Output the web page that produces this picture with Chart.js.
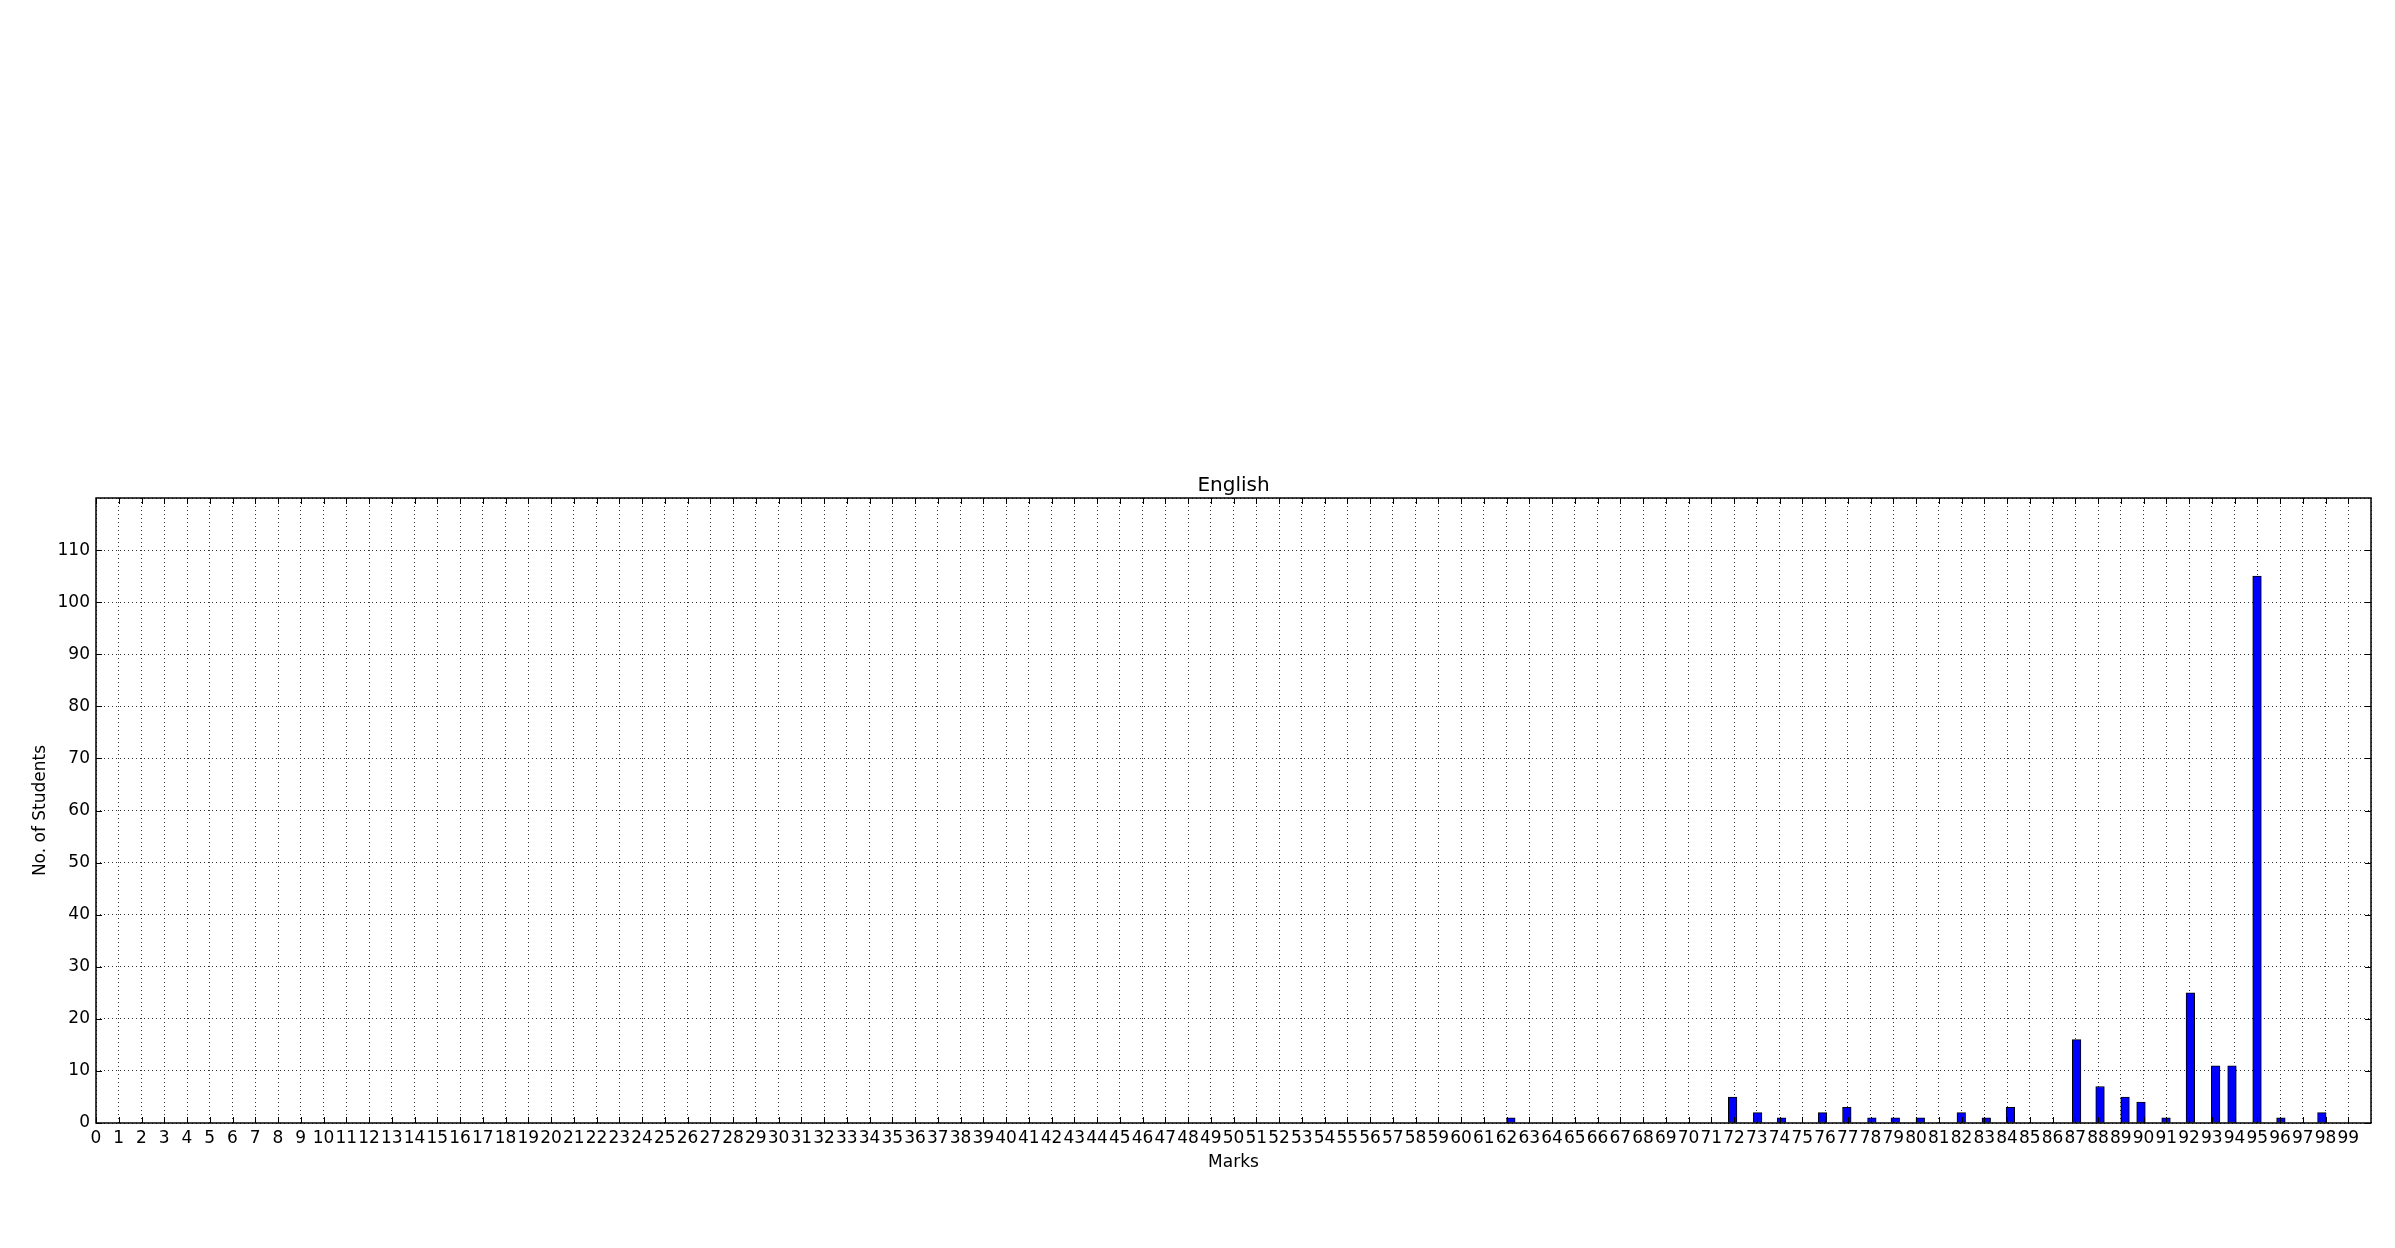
<!DOCTYPE html>
<html>
<head>
<meta charset="utf-8">
<script src="https://cdn.jsdelivr.net/npm/chart.js@4/dist/chart.umd.min.js"></script>
<style>
  html, body { margin: 0; padding: 0; background: #fff; }
  #wrap { width: 2395px; height: 1248px; }
</style>
</head>
<body>
<div id="wrap"><canvas id="myChart"></canvas></div>
<script>
// left edge of each bar (in marks) and the number of students in it
var binStart = [62.0, 71.75, 72.85, 73.9, 75.7, 76.77, 77.87, 78.9, 80.0, 81.8, 82.9, 83.96,
  86.87, 87.9, 89.0, 89.7, 90.8, 91.87, 92.98, 93.7, 94.8, 95.85, 97.65];
var students = [1, 5, 2, 1, 2, 3, 1, 1, 1, 2, 1, 3, 16, 7, 5, 4, 1, 25, 11, 11, 105, 1, 2];
var xTicks = [];
for (var i = 0; i < 100; i++) xTicks.push(i);
var yTicks = [0, 10, 20, 30, 40, 50, 60, 70, 80, 90, 100, 110];

var BAR_UNITS = 0.38;
var font = 'DejaVu Sans';

// box round the plot + inward tick marks (matplotlib classic look)
var frame = {
  id: 'frame',
  afterDatasetsDraw: function (chart) {
    var ctx = chart.ctx, a = chart.chartArea;
    var xs = chart.scales.x, ys = chart.scales.y;
    ctx.save();
    ctx.strokeStyle = '#000';
    ctx.lineWidth = 1;
    ctx.beginPath();
    xTicks.forEach(function (v) {
      var px = Math.round(xs.getPixelForValue(v)) + 0.5;
      ctx.moveTo(px, a.bottom); ctx.lineTo(px, a.bottom - 6);
      ctx.moveTo(px, a.top); ctx.lineTo(px, a.top + 6);
    });
    yTicks.forEach(function (v) {
      var py = Math.round(ys.getPixelForValue(v)) + 0.5;
      ctx.moveTo(a.left, py); ctx.lineTo(a.left + 6, py);
      ctx.moveTo(a.right, py); ctx.lineTo(a.right - 6, py);
    });
    ctx.stroke();
    ctx.lineWidth = 1.5;
    ctx.strokeRect(a.left, a.top, a.right - a.left, a.bottom - a.top);
    ctx.restore();
  }
};

var data = {
  datasets: [{
    label: 'English',
    data: binStart.map(function (x, i) { return { x: x + BAR_UNITS / 2, y: students[i] }; }),
    backgroundColor: '#0000ff',
    borderColor: '#000000',
    borderWidth: 1,
    borderSkipped: false,
    barThickness: 8.6
  }]
};

var config = {
  type: 'bar',
  data: data,
  plugins: [frame],
  options: {
    responsive: true,
    maintainAspectRatio: false,
    animation: false,
    layout: { padding: { top: 474, left: 0, right: 24, bottom: 65 } },
    plugins: {
      legend: { display: false },
      tooltip: { enabled: false },
      title: { display: false }
    },
    scales: {
      x: {
        type: 'linear',
        min: 0,
        max: 100,
        offset: false,
        afterFit: function (s) { s.height = 60; },
        afterBuildTicks: function (s) {
          s.ticks = xTicks.map(function (v) { return { value: v }; }).concat([{ value: 100 }]);
        },
        ticks: {
          autoSkip: false,
          maxRotation: 0,
          minRotation: 0,
          padding: 5,
          color: '#000',
          font: { family: font, size: 17 },
          callback: function (v) { return v < 100 ? String(v) : ''; }
        },
        grid: { color: '#333', lineWidth: 1, drawTicks: false, offset: false },
        border: { display: false, dash: [1, 3] },
        title: {
          display: true,
          text: 'Marks',
          color: '#000',
          font: { family: font, size: 17 },
          padding: { top: 0, bottom: 10 }
        }
      },
      // empty top axis, only used to centre the title over the plot
      top: {
        type: 'linear',
        position: 'top',
        min: 0,
        max: 100,
        offset: false,
        afterFit: function (s) { s.height = 24; },
        ticks: { display: false },
        grid: { display: false, drawTicks: false },
        border: { display: false },
        title: {
          display: true,
          text: 'English',
          color: '#000',
          font: { family: font, size: 20 },
          padding: { top: 0, bottom: 0 }
        }
      },
      y: {
        min: 0,
        max: 120,
        afterFit: function (s) { s.width = 96; },
        afterBuildTicks: function (s) {
          s.ticks = yTicks.map(function (v) { return { value: v }; }).concat([{ value: 120 }]);
        },
        ticks: {
          padding: 6,
          color: '#000',
          font: { family: font, size: 17 },
          callback: function (v) { return v < 120 ? String(v) : ''; }
        },
        grid: { color: '#333', lineWidth: 1, drawTicks: false },
        border: { display: false, dash: [1, 3] },
        title: {
          display: true,
          text: 'No. of Students',
          color: '#000',
          font: { family: font, size: 17 },
          padding: { top: 30, bottom: 0 }
        }
      }
    }
  }
};
var myChart = new Chart(document.getElementById('myChart'), config);
</script>
</body>
</html>
